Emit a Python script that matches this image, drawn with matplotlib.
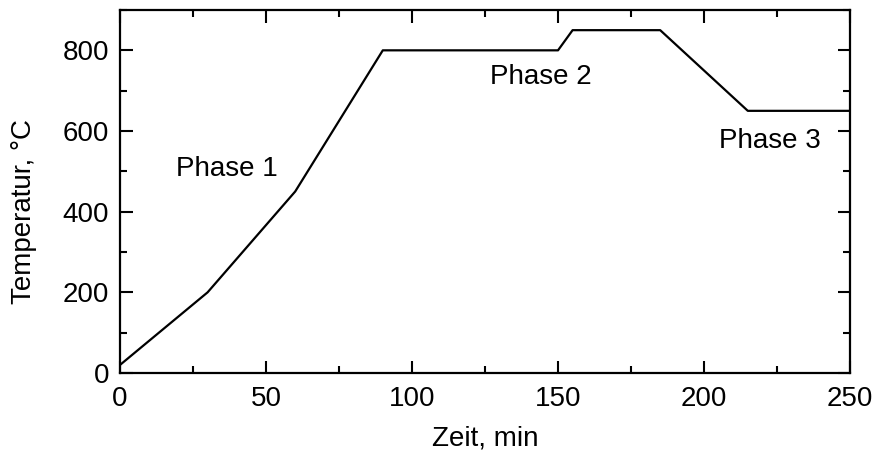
import matplotlib
matplotlib.use("Agg")
import matplotlib.pyplot as plt
from matplotlib.ticker import MultipleLocator

# temperature program
time_min = [0, 30, 60, 90, 150, 155, 185, 215, 250]
temp_c = [20, 200, 450, 800, 800, 850, 850, 650, 650]

phase_labels = ["Phase 1", "Phase 2", "Phase 3"]
phase_x = [36.6, 144, 222.5]
phase_y = [505, 735, 574]

plt.rcParams['font.family'] = ['Liberation Sans', 'DejaVu Sans']
plt.rcParams['font.size'] = 20

fig = plt.figure(figsize=(8.77, 4.54), dpi=100)
ax = fig.add_axes([120 / 877, 1 - 373 / 454, 730 / 877, 363 / 454])

ax.plot(time_min, temp_c, color='black', lw=1.6)

for lab, x, y in zip(phase_labels, phase_x, phase_y):
    ax.text(x, y, lab, ha='center', va='center', fontsize=20)

ax.set_xlim(0, 250)
ax.set_ylim(0, 900)
ax.xaxis.set_major_locator(MultipleLocator(50))
ax.xaxis.set_minor_locator(MultipleLocator(25))
ax.yaxis.set_major_locator(MultipleLocator(200))
ax.yaxis.set_minor_locator(MultipleLocator(100))

ax.tick_params(which='both', direction='in', width=1.5, top=True, right=True)
ax.tick_params(which='major', length=9)
ax.tick_params(which='minor', length=5)
ax.tick_params(axis='x', pad=9)
ax.tick_params(axis='y', pad=8)
for s in ax.spines.values():
    s.set_linewidth(1.6)

ax.set_xlabel("Zeit, min", labelpad=10)
ax.set_ylabel("Temperatur, °C")
ax.yaxis.set_label_coords(-83 / 730, 0.444)

fig.savefig("out.png", dpi=100)
